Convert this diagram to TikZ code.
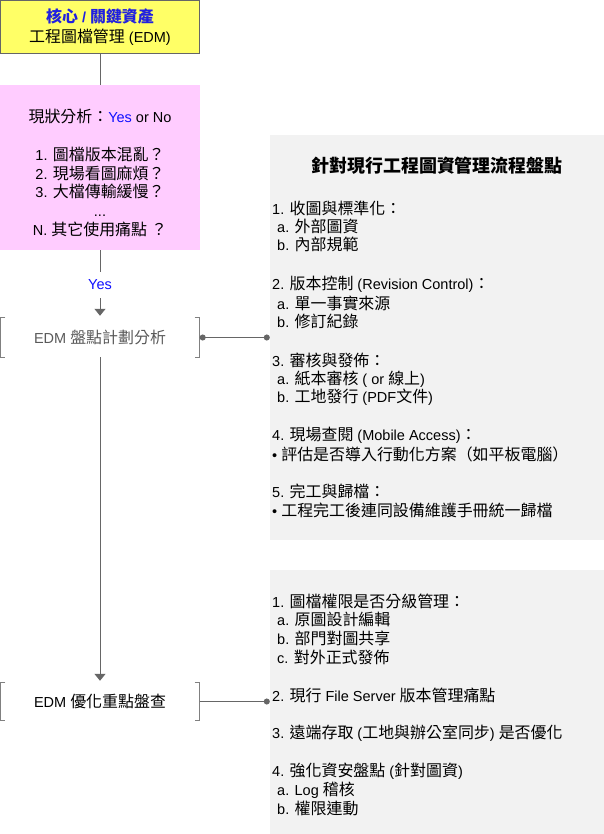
\documentclass[tikz,border=0pt]{standalone}
\usepackage{fontspec}
\setmainfont{Liberation Sans}
\newfontfamily\cjk{Noto Sans CJK TC}[Scale=1.1]
\XeTeXinterchartokenstate=1
\newXeTeXintercharclass\cjkclass
\newcount\cjkcnt
\def\setcjkrange#1#2{\cjkcnt=#1\relax
  \loop\XeTeXcharclass\cjkcnt=\cjkclass
  \ifnum\cjkcnt<#2\relax\advance\cjkcnt by 1\repeat}
\setcjkrange{"3000}{"303F}
\setcjkrange{"4E00}{"9FFF}
\setcjkrange{"FF00}{"FFEF}
\XeTeXinterchartoks 0 \cjkclass = {\begingroup\cjk}
\XeTeXinterchartoks 4095 \cjkclass = {\begingroup\cjk}
\XeTeXinterchartoks \cjkclass 0 = {\endgroup}
\XeTeXinterchartoks \cjkclass 4095 = {\endgroup}
\usetikzlibrary{arrows.meta}
\definecolor{coreyellow}{HTML}{FFFF66}
\definecolor{statuspink}{HTML}{FFCCFF}
\definecolor{panelgray}{HTML}{F2F2F2}
\definecolor{linegray}{HTML}{666666}
\definecolor{bracketgray}{HTML}{808080}
\definecolor{plangray}{HTML}{595959}
\definecolor{titleblue}{HTML}{2020E0}
\definecolor{answerblue}{HTML}{1010FF}
\tikzset{
  link/.style={draw=linegray, line width=1pt},
  bracket/.style={draw=bracketgray, line width=1pt},
  panel/.style={fill=panelgray, inner sep=0pt},
  item/.style={anchor=west, inner sep=0pt},
  stage/.style={minimum width=199pt, inner sep=0pt}
}
\begin{document}
\begin{tikzpicture}[x=1pt, y=-1pt, font=\fontsize{14.5}{18.7}\selectfont]
  \useasboundingbox (0,0) rectangle (604,834);
  \node[stage, fill=coreyellow, draw=linegray, line width=1pt, minimum height=53pt, align=center] (core) at (100,27.5)
    {{\bfseries\color{titleblue}核心 / 關鍵資產}\\[1.3pt]工程圖檔管理 (EDM)};
  \node[fill=statuspink, minimum width=200pt, minimum height=165pt, inner sep=0pt] (status) at (100,167.5) {};
  \node[align=center, inner sep=0pt] (statustxt) at (100,173)
    {現狀分析：{\color{answerblue}Yes} or No\\[18.7pt]1. 圖檔版本混亂？\\2. 現場看圖麻煩？\\3. 大檔傳輸緩慢？\\...\\N. 其它使用痛點 ？};
  \node[text=answerblue, minimum height=26pt, inner sep=0pt] (yes) at (100,285) {Yes};
  \node[stage, minimum height=39pt, text=plangray] (plan) at (100,337.5) {EDM 盤點計劃分析};
  \node[stage, minimum height=37pt] (review) at (100,701.5) {EDM 優化重點盤查};
  \foreach \nd in {plan,review} {
    \draw[bracket] ([xshift=5pt]\nd.north west) -- (\nd.north west) -- (\nd.south west) -- ([xshift=5pt]\nd.south west);
    \draw[bracket] ([xshift=-5pt]\nd.north east) -- (\nd.north east) -- (\nd.south east) -- ([xshift=-5pt]\nd.south east);
  }
  \node[panel, minimum width=334pt, minimum height=405pt] (audit) at (437,337.5) {};
  \node[panel, minimum width=334pt, minimum height=264pt] (risk) at (437,702) {};
  \node[font=\fontsize{16.3}{19}\selectfont\bfseries] (audittitle) at (437,166) {針對現行工程圖資管理流程盤點};
  \foreach \yv/\xv/\txt [count=\i] in {
    208/272/{1. 收圖與標準化：}, 226/277/{a. 外部圖資}, 244/277/{b. 內部規範},
    284/272/{2. 版本控制 (Revision Control)：}, 303/277/{a. 單一事實來源}, 321/277/{b. 修訂紀錄},
    360/272/{3. 審核與發佈：}, 379/277/{a. 紙本審核 ( or 線上)}, 397/277/{b. 工地發行 (PDF文件)},
    435/272/{4. 現場查閱 (Mobile Access)：}, 454/272/{• 評估是否導入行動化方案（如平板電腦）},
    491/272/{5. 完工與歸檔：}, 510/272/{• 工程完工後連同設備維護手冊統一歸檔}}
  {
    \node[item] (audit-\i) at (\xv,\yv) {\txt};
  }
  \foreach \yv/\xv/\txt [count=\i] in {
    601/272/{1. 圖檔權限是否分級管理：}, 619/277/{a. 原圖設計編輯}, 638/277/{b. 部門對圖共享},
    657/277/{c. 對外正式發佈}, 695/272/{2. 現行 File Server 版本管理痛點},
    733/272/{3. 遠端存取 (工地與辦公室同步) 是否優化}, 771/272/{4. 強化資安盤點 (針對圖資)},
    790/277/{a. Log 稽核}, 808/277/{b. 權限連動}}
  {
    \node[item] (risk-\i) at (\xv,\yv) {\txt};
  }
  \draw[link] (core) -- (status);
  \draw[link] (status) -- (yes);
  \draw[link, -{Triangle[width=11pt,length=7pt]}, shorten >=2pt] (yes) -- (plan);
  \draw[link, -{Triangle[width=11pt,length=7pt]}, shorten >=2pt] (plan) -- (review);
  \draw[link, {Circle[length=6pt]}-{Circle[length=6pt]}] (plan.east) -- (plan.east -| audit.west);
  \draw[link, -{Circle[length=6pt]}] (review.east) -- (review.east -| risk.west);
\end{tikzpicture}
\end{document}
